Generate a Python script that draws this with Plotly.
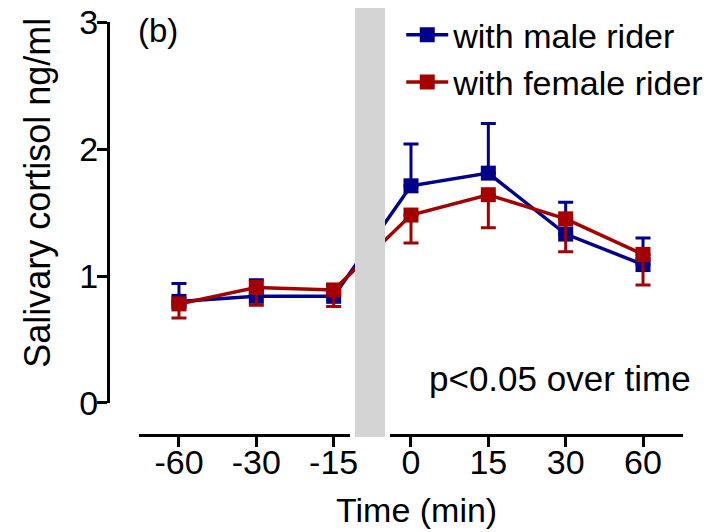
import plotly.graph_objects as go

# ---- data ----
time_labels = ["-60", "-30", "-15", "0", "15", "30", "60"]
male_mean = [0.80, 0.84, 0.84, 1.71, 1.81, 1.33, 1.09]
male_err_up = [0.14, 0.13, 0.09, 0.33, 0.39, 0.25, 0.21]
female_mean = [0.78, 0.91, 0.89, 1.48, 1.64, 1.45, 1.17]
female_err_down = [0.11, 0.14, 0.13, 0.22, 0.26, 0.26, 0.24]
zeros = [0] * len(time_labels)

BLUE = "#00008b"
RED = "#a50000"
FONT = "Arial, Liberation Sans, sans-serif"

fig = go.Figure()
fig.add_trace(go.Scatter(
    x=time_labels, y=male_mean, name="with male rider",
    mode="lines+markers",
    line=dict(color=BLUE, width=3.5),
    marker=dict(symbol="square", size=15, color=BLUE),
    error_y=dict(type="data", symmetric=False, array=male_err_up,
                 arrayminus=zeros, color=BLUE, thickness=3, width=7.5),
))
fig.add_trace(go.Scatter(
    x=time_labels, y=female_mean, name="with female rider",
    mode="lines+markers",
    line=dict(color=RED, width=3.5),
    marker=dict(symbol="square", size=15, color=RED),
    error_y=dict(type="data", symmetric=False, array=zeros,
                 arrayminus=female_err_down, color=RED, thickness=3, width=7.5),
))

# gap in the x-axis line and grey break band between -15 and 0
fig.add_shape(type="rect", xref="x", yref="paper", x0=2.211, x1=2.728,
              y0=-0.02, y1=0.02, fillcolor="white", line_width=0, layer="above")
fig.add_shape(type="rect", xref="x", yref="paper", x0=2.276, x1=2.664,
              y0=-0.005, y1=1.036, fillcolor="#d4d4d4", line_width=0, layer="above")

fig.add_annotation(text="Salivary cortisol ng/ml", xref="paper", yref="paper",
                   x=-0.122, y=0.586, textangle=-90, showarrow=False,
                   xanchor="center", yanchor="middle",
                   font=dict(size=36, color="black", family=FONT))
fig.add_annotation(text="Time (min)", xref="paper", yref="paper",
                   x=0.537, y=-0.182, showarrow=False,
                   xanchor="center", yanchor="middle",
                   font=dict(size=34, color="black", family=FONT))
fig.add_annotation(text="(b)", xref="paper", yref="paper",
                   x=0.087, y=0.98, showarrow=False,
                   xanchor="center", yanchor="middle",
                   font=dict(size=33, color="black", family=FONT))
fig.add_annotation(text="p<0.05 over time", xref="paper", yref="paper",
                   x=0.786, y=0.138, showarrow=False,
                   xanchor="center", yanchor="middle",
                   font=dict(size=35, color="black", family=FONT))

fig.update_layout(
    width=714, height=524,
    margin=dict(l=100, r=39, t=14, b=97, autoexpand=False),
    paper_bgcolor="white", plot_bgcolor="white",
    font=dict(family=FONT, size=34, color="black"),
    showlegend=True,
    legend=dict(x=0.51, y=1.0385, xanchor="left", yanchor="top",
                bgcolor="rgba(0,0,0,0)", font=dict(size=34, color="black"),
                itemwidth=42),
    xaxis=dict(
        type="category", categoryorder="array", categoryarray=time_labels,
        domain=[0.0539, 1], range=[-0.517, 6.517],
        anchor="free", position=0,
        showline=True, linecolor="black", linewidth=3,
        ticks="outside", ticklen=10, tickwidth=3, tickcolor="black",
        ticklabelstandoff=-14, ticklabeloverflow="allow",
        showgrid=False, zeroline=False,
        tickfont=dict(size=34, color="black", family=FONT),
    ),
    yaxis=dict(
        domain=[0.0775, 1], range=[0, 3],
        anchor="free", position=0,
        tickvals=[0, 1, 2, 3],
        showline=True, linecolor="black", linewidth=3,
        ticks="outside", ticklen=10, tickwidth=3, tickcolor="black",
        ticklabelstandoff=-8, ticklabeloverflow="allow",
        showgrid=False, zeroline=False,
        tickfont=dict(size=34, color="black", family=FONT),
    ),
)

fig.write_html("out.html")
